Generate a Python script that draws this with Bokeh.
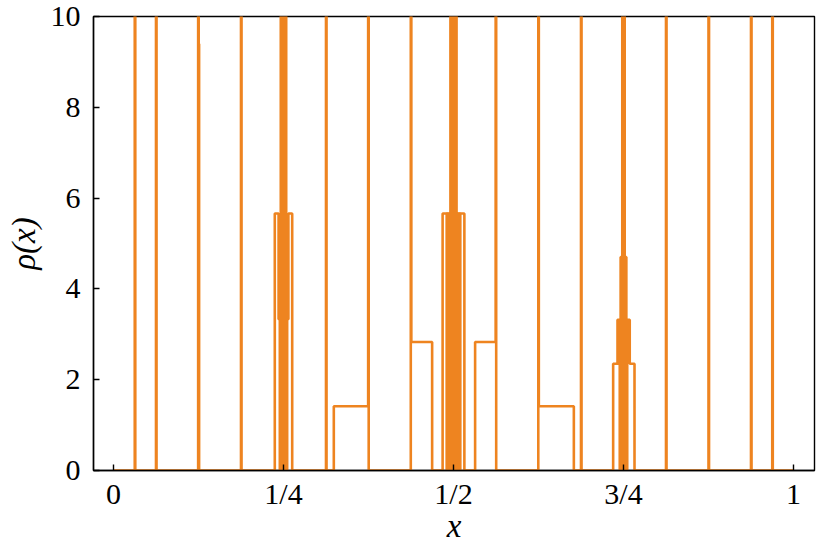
from bokeh.plotting import figure
from bokeh.models import FixedTicker, Range1d
from bokeh.embed import file_html
from bokeh.resources import INLINE

# step edges (left end of each constant piece) and density value on that piece
x_edges = [
    0.0, 0.03125, 0.03205,
    0.0625, 0.0633,
    0.1245, 0.1253, 0.1259,
    0.1875, 0.1883,
    0.2372, 0.2428, 0.2446, 0.2460, 0.2468, 0.2476, 0.2484, 0.2492,
    0.2508, 0.2516, 0.2524, 0.2532, 0.2540, 0.2554, 0.2572, 0.2628,
    0.3125, 0.3133,
    0.3240, 0.3745, 0.3753,
    0.4372, 0.4380, 0.4686,
    0.4840, 0.4900, 0.4908, 0.4916, 0.4924, 0.4932, 0.4940,
    0.4955, 0.4968, 0.4981, 0.4994, 0.5006, 0.5019, 0.5032,
    0.5045, 0.5060, 0.5068, 0.5076, 0.5084, 0.5092, 0.5100, 0.5160,
    0.5318, 0.5620, 0.5628,
    0.6247, 0.6255, 0.6770,
    0.6875, 0.6883,
    0.7348, 0.7412, 0.7445, 0.7458, 0.7466, 0.7474, 0.7482, 0.7491, 0.7496,
    0.7504, 0.7509, 0.7518, 0.7526, 0.7534, 0.7542, 0.7555, 0.7592, 0.7662,
    0.8125, 0.8133,
    0.8750, 0.8758,
    0.9375, 0.9383,
    0.96875, 0.96955,
    1.0,
]
rho = [
    0.0, 60.0, 0.0,
    60.0, 0.0,
    60.0, 9.4, 0.0,
    60.0, 0.0,
    5.66, 3.33, 0.0, 40.0, 0.0, 40.0, 0.0, 80.0,
    0.0, 40.0, 0.0, 40.0, 0.0, 3.33, 5.66, 0.0,
    60.0, 0.0,
    1.414, 60.0, 0.0,
    60.0, 2.83, 0.0,
    5.66, 0.0, 5.66, 0.0, 5.66, 0.0, 5.66,
    40.0, 0.0, 60.0, 0.0, 60.0, 0.0, 40.0,
    5.66, 0.0, 5.66, 0.0, 5.66, 0.0, 5.66, 0.0,
    2.83, 60.0, 0.0,
    60.0, 1.414, 0.0,
    60.0, 0.0,
    2.35, 3.32, 0.0, 4.70, 0.0, 4.70, 60.0, 0.0, 80.0,
    0.0, 60.0, 4.70, 0.0, 4.70, 0.0, 3.32, 2.35, 0.0,
    60.0, 0.0,
    60.0, 0.0,
    60.0, 0.0,
    60.0, 0.0,
    0.0,
]

x_ticks = [0, 0.25, 0.5, 0.75, 1]
x_tick_labels = ["0", "1/4", "1/2", "3/4", "1"]
y_ticks = [0, 2, 4, 6, 8, 10]

p = figure(width=822, height=546, output_backend="svg", toolbar_location=None,
           x_range=Range1d(-0.0294, 1.0309), y_range=Range1d(0, 10),
           min_border_left=93, min_border_right=8, min_border_top=16,
           min_border_bottom=60)

p.step(x_edges, rho, mode="after", line_color="#EE8420", line_width=2.6)

p.xgrid.visible = False
p.ygrid.visible = False
p.outline_line_color = "black"
p.outline_line_width = 1.4
p.outline_line_alpha = 1.0

p.xaxis.ticker = FixedTicker(ticks=x_ticks)
p.xaxis.major_label_overrides = {t: s for t, s in zip(x_ticks, x_tick_labels)}
p.yaxis.ticker = FixedTicker(ticks=y_ticks)

font = "Liberation Serif"
for ax in (p.xaxis[0], p.yaxis[0]):
    ax.axis_line_color = "black"
    ax.axis_line_width = 1.4
    ax.major_tick_in = 6
    ax.major_tick_out = 0
    ax.major_tick_line_color = "black"
    ax.major_tick_line_width = 1.4
    ax.minor_tick_line_color = None
    ax.major_label_text_font = font
    ax.major_label_text_font_size = "30px"
    ax.major_label_text_color = "black"
    ax.axis_label_text_font = font
    ax.axis_label_text_font_size = "33px"
    ax.axis_label_text_font_style = "italic"
    ax.axis_label_text_color = "black"

p.xaxis.axis_label = "x"
p.yaxis.axis_label = "ρ(x)"
p.xaxis.major_label_standoff = 6
p.yaxis.major_label_standoff = 13
p.xaxis.axis_label_standoff = -5
p.yaxis.axis_label_standoff = 6

open("out.html", "w").write(file_html(p, INLINE))
